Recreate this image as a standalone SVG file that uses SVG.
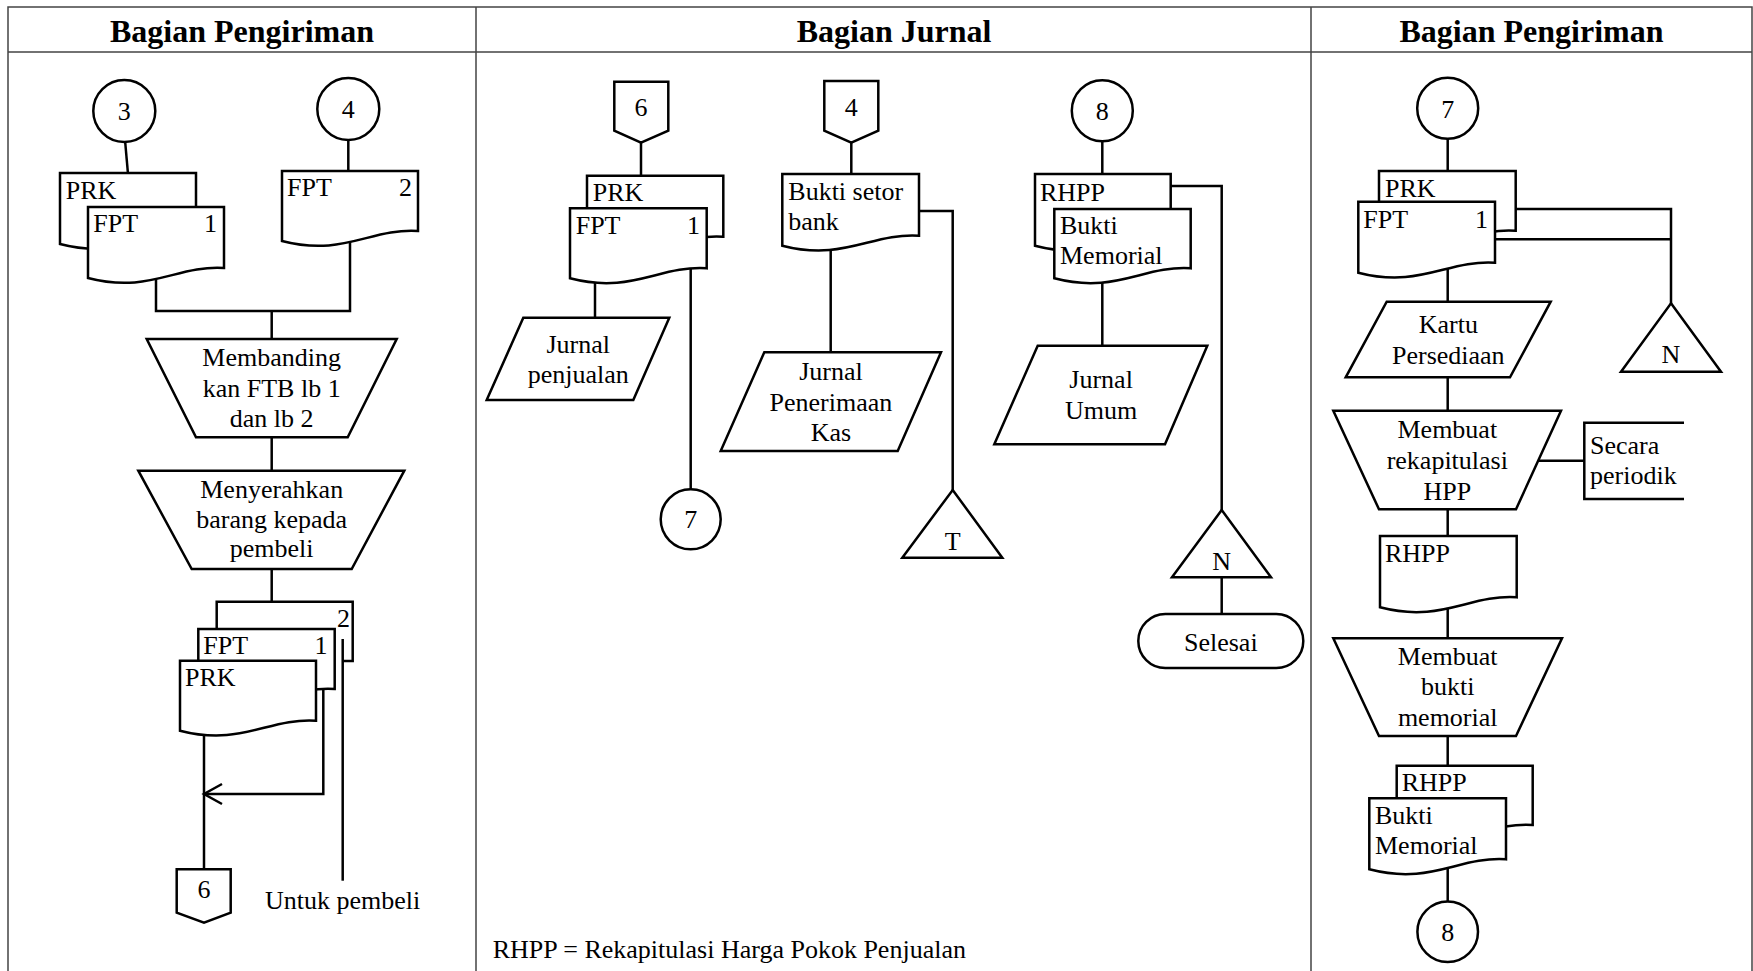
<svg xmlns="http://www.w3.org/2000/svg" width="1753" height="971" viewBox="0 0 1753 971">
<style>
.frame{stroke:#444;stroke-width:1.5;fill:none}
.s{stroke:#000;stroke-width:2.5;fill:#fff;stroke-linejoin:miter}
.o{stroke:#000;stroke-width:2.5;fill:none}
.c{stroke:#000;stroke-width:2.5;fill:none}
text{font-family:"Liberation Serif","Times New Roman",serif;font-size:26px;fill:#000}
.m{text-anchor:middle}
.e{text-anchor:end}
.h{font-weight:bold;font-size:32px;text-anchor:middle}
</style>
<rect width="1753" height="971" fill="#fff"/>
<g id="frame">
<path class="frame" d="M8 975 V7 H1752 V975 M8 52 H1752 M476 7 V975 M1311 7 V975"/>
<text class="h" x="242" y="42">Bagian Pengiriman</text>
<text class="h" x="894" y="42">Bagian Jurnal</text>
<text class="h" x="1531.5" y="42">Bagian Pengiriman</text>
</g>
<g id="connectors">
<path class="c" d="M125 140 L128 174"/>
<path class="c" d="M348.3 140 V172"/>
<path class="c" d="M156 270 V311 H350 V235"/>
<path class="c" d="M271.7 311 V340"/>
<path class="c" d="M271.7 437 V471"/>
<path class="c" d="M271.7 569 V602"/>
<path class="c" d="M342.7 639 V880.7"/>
<path class="c" d="M323.3 680 V794 H204"/>
<polyline class="c" points="222,784 204,794 222,804"/>
<path class="c" d="M204 720 V870"/>
<path class="c" d="M641 142.7 V176"/>
<path class="c" d="M595 270 V318"/>
<path class="c" d="M690.7 260 V489.3"/>
<path class="c" d="M851.3 142.7 V175"/>
<path class="c" d="M910 211 H952.7 V491"/>
<path class="c" d="M830.7 240 V353"/>
<path class="c" d="M1102.3 141.2 V175"/>
<path class="c" d="M1160 186 H1221.7 V511"/>
<path class="c" d="M1102.3 270 V346"/>
<path class="c" d="M1221.7 577 V615"/>
<path class="c" d="M1447.7 138.8 V172"/>
<path class="c" d="M1505 209 H1671 V304"/>
<path class="c" d="M1485 239.3 H1671"/>
<path class="c" d="M1447.7 260 V302"/>
<path class="c" d="M1447.7 377 V411"/>
<path class="c" d="M1530 460.7 H1584.3"/>
<path class="c" d="M1447.7 509 V537"/>
<path class="c" d="M1447.7 590 V639"/>
<path class="c" d="M1447.7 736 V766"/>
<path class="c" d="M1447.7 850 V901.4"/>
</g>
<g id="n-c3"><circle class="s" cx="124.3" cy="111" r="31"/><text class="m" x="124.3" y="120">3</text></g>
<g id="n-c4"><circle class="s" cx="348.3" cy="109" r="31"/><text class="m" x="348.3" y="118">4</text></g>
<g id="n-prk1"><path class="s" d="M60 173 H196 V234 C148.4 231 121.2 260 60 244 Z"/><text x="65.7" y="199">PRK</text></g>
<g id="n-fpt1"><path class="s" d="M88 207 H224 V268 C176.4 265 149.2 294 88 278 Z"/><text x="93.3" y="232">FPT</text><text class="e" x="217" y="232">1</text></g>
<g id="n-fpt2"><path class="s" d="M282 171 H418 V231 C370.4 228 343.2 257 282 241 Z"/><text x="287" y="196">FPT</text><text class="e" x="412" y="196">2</text></g>
<g id="n-membanding"><path class="s" d="M146.7 339 H396.7 L347.7 437.3 H196 Z"/><text class="m" x="271.7" y="366">Membanding</text><text class="m" x="271.7" y="397">kan FTB lb 1</text><text class="m" x="271.7" y="427">dan lb 2</text></g>
<g id="n-menyerahkan"><path class="s" d="M138.3 470.7 H404.3 L351.7 569 H191.7 Z"/><text class="m" x="271.7" y="498">Menyerahkan</text><text class="m" x="271.7" y="528">barang kepada</text><text class="m" x="271.7" y="557">pembeli</text></g>
<g id="n-fpt2b"><path class="o" d="M342.7 661 H352.7 V601.7 H216.7 V629"/><text class="e" x="350" y="627">2</text></g>
<g id="n-fpt1b"><path class="s" d="M198.3 629 H334.7 V689 C287 686 259.7 715 198.3 699 Z"/><text x="203.3" y="654">FPT</text><text class="e" x="327.5" y="654">1</text></g>
<g id="n-prkb"><path class="s" d="M180 660.7 H316 V720.7 C268.4 717.7 241.2 746.7 180 730.7 Z"/><text x="185" y="686">PRK</text></g>
<g id="n-off6a"><path class="s" d="M176.7 869.3 H230.7 V912.7 L204 922.7 L176.7 912.7 Z"/><text class="m" x="204" y="898">6</text></g>
<g id="n-untuk"><text x="265" y="909">Untuk pembeli</text></g>
<g id="n-off6b"><path class="s" d="M614.3 81.7 H668.3 V130.7 L641 142.7 L614.3 130.7 Z"/><text class="m" x="641" y="116">6</text></g>
<g id="n-prk2"><path class="s" d="M587 175.7 H723.3 V236.7 C675.6 233.7 648.3 262.7 587 246.7 Z"/><text x="592.7" y="201">PRK</text></g>
<g id="n-fpt3"><path class="s" d="M570 208.3 H706.7 V268.3 C658.9 265.3 631.5 294.3 570 278.3 Z"/><text x="575.7" y="234">FPT</text><text class="e" x="700" y="234">1</text></g>
<g id="n-jpenj"><path class="s" d="M523.3 317.7 H669.3 L633.3 400 H486.7 Z"/><text class="m" x="578.2" y="353">Jurnal</text><text class="m" x="578.2" y="383">penjualan</text></g>
<g id="n-c7a"><circle class="s" cx="690.7" cy="519.3" r="30"/><text class="m" x="690.7" y="528">7</text></g>
<g id="n-off4"><path class="s" d="M824.3 81 H878.3 V130.7 L851.3 142.7 L824.3 130.7 Z"/><text class="m" x="851.3" y="116">4</text></g>
<g id="n-bsb"><path class="s" d="M782.3 174 H919 V235.7 C871.2 232.7 843.8 261.7 782.3 245.7 Z"/><text x="788.3" y="200">Bukti setor</text><text x="788.3" y="230">bank</text></g>
<g id="n-jpk"><path class="s" d="M764.3 352.3 H941 L897.7 451 H720.7 Z"/><text class="m" x="830.9" y="380">Jurnal</text><text class="m" x="830.9" y="410.7">Penerimaan</text><text class="m" x="830.9" y="440.7">Kas</text></g>
<g id="n-t"><path class="s" d="M952.7 490 L1002.3 557.7 H902.3 Z"/><text class="m" x="952.7" y="550">T</text></g>
<g id="n-c8a"><circle class="s" cx="1102.3" cy="110.7" r="30.5"/><text class="m" x="1102.3" y="120">8</text></g>
<g id="n-rhpp1"><path class="s" d="M1035 174 H1170.7 V235.7 C1123.2 232.7 1096.1 261.7 1035 245.7 Z"/><text x="1040" y="200.7">RHPP</text></g>
<g id="n-bm1"><path class="s" d="M1054.3 209 H1190.7 V268.3 C1143 265.3 1115.7 294.3 1054.3 278.3 Z"/><text x="1060" y="234.3">Bukti</text><text x="1060" y="264">Memorial</text></g>
<g id="n-ju"><path class="s" d="M1037.7 345.7 H1207.3 L1165 444.3 H994.3 Z"/><text class="m" x="1101.1" y="388.3">Jurnal</text><text class="m" x="1101.1" y="419.3">Umum</text></g>
<g id="n-n1"><path class="s" d="M1221.7 510 L1271 577.3 H1172 Z"/><text class="m" x="1221.7" y="570">N</text></g>
<g id="n-selesai"><rect class="s" x="1138.3" y="614" width="165" height="54" rx="27"/><text class="m" x="1220.8" y="651">Selesai</text></g>
<g id="n-c7b"><circle class="s" cx="1447.7" cy="108.3" r="30.5"/><text class="m" x="1447.7" y="117.5">7</text></g>
<g id="n-prk3"><path class="s" d="M1379 171 H1515.7 V230.7 C1467.9 227.7 1440.5 256.7 1379 240.7 Z"/><text x="1385" y="196.7">PRK</text></g>
<g id="n-fpt4"><path class="s" d="M1358.3 201.7 H1495 V262.7 C1447.2 259.7 1419.8 288.7 1358.3 272.7 Z"/><text x="1363.3" y="227.7">FPT</text><text class="e" x="1488" y="227.7">1</text></g>
<g id="n-kartu"><path class="s" d="M1386.7 301.7 H1550.7 L1510 377.3 H1345.7 Z"/><text class="m" x="1448.3" y="333.3">Kartu</text><text class="m" x="1448.3" y="364.3">Persediaan</text></g>
<g id="n-n2"><path class="s" d="M1671 303.3 L1721 371.7 H1621 Z"/><text class="m" x="1671" y="363">N</text></g>
<g id="n-rekap"><path class="s" d="M1333.3 410.7 H1561 L1516 509.3 H1379 Z"/><text class="m" x="1447.3" y="438.3">Membuat</text><text class="m" x="1447.3" y="469">rekapitulasi</text><text class="m" x="1447.3" y="500">HPP</text></g>
<g id="n-secara"><path class="o" d="M1684 422.7 H1584.3 V499 H1684"/><text x="1590" y="454">Secara</text><text x="1590" y="484.3">periodik</text></g>
<g id="n-rhpp2"><path class="s" d="M1380 536 H1516.7 V597.3 C1468.9 594.3 1441.5 623.3 1380 607.3 Z"/><text x="1385" y="562.3">RHPP</text></g>
<g id="n-buatbm"><path class="s" d="M1333.3 638.3 H1562 L1516 736 H1379 Z"/><text class="m" x="1447.7" y="665">Membuat</text><text class="m" x="1447.7" y="695">bukti</text><text class="m" x="1447.7" y="726">memorial</text></g>
<g id="n-rhpp3"><path class="s" d="M1396.7 765.7 H1532.7 V825 C1485.1 822 1457.9 851 1396.7 835 Z"/><text x="1401.7" y="790.7">RHPP</text></g>
<g id="n-bm2"><path class="s" d="M1369.3 798.3 H1506 V859.3 C1458.2 856.3 1430.8 885.3 1369.3 869.3 Z"/><text x="1375" y="824.3">Bukti</text><text x="1375" y="854.3">Memorial</text></g>
<g id="n-c8b"><circle class="s" cx="1447.7" cy="931.7" r="30.3"/><text class="m" x="1447.7" y="941">8</text></g>
<g id="legend"><text x="492.7" y="958">RHPP = Rekapitulasi Harga Pokok Penjualan</text></g>
</svg>
